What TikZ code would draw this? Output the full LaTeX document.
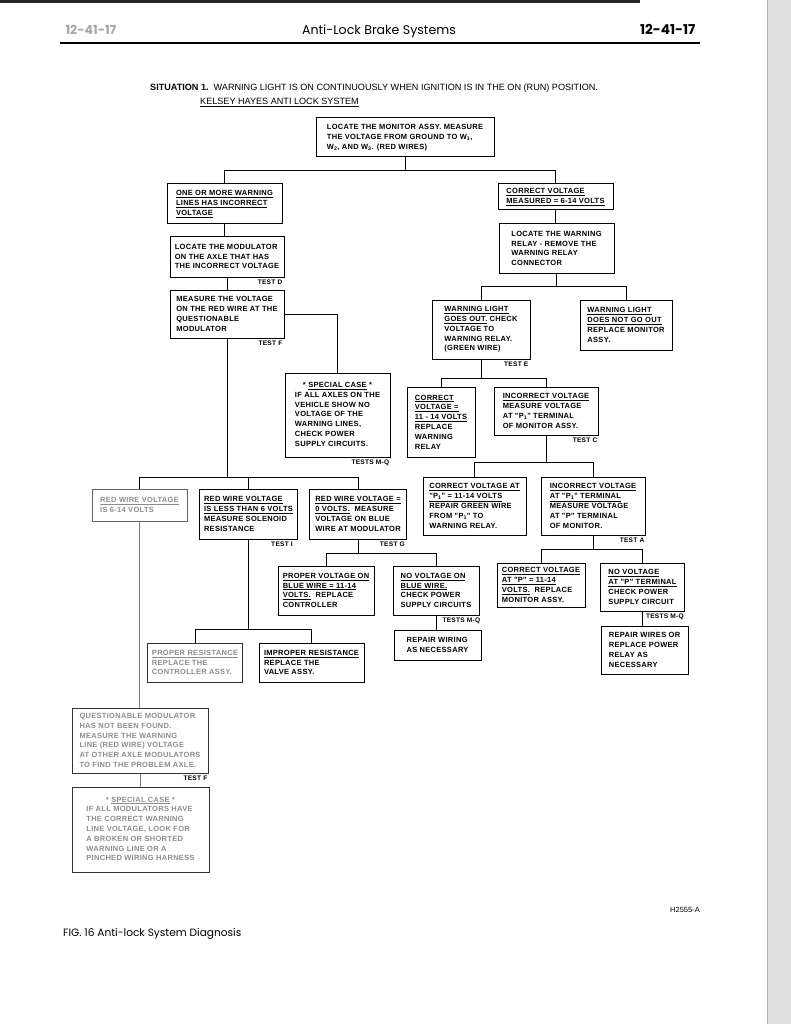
\documentclass[tikz,border=0pt]{standalone}
\usepackage{fontspec}
\setmainfont{Liberation Sans}
\newfontfamily\headfont{Poppins}
\newfontfamily\boxfam[LetterSpace=4]{Liberation Sans}
\newcommand\boxfont{\boxfam\fontsize{7.5}{9.8}\selectfont\bfseries}
\newcommand\lblfont{\boxfam\fontsize{6.6}{8}\selectfont\bfseries}
\newcommand\uln[1]{\underline{#1}}
\newcommand\sbs[1]{\textsubscript{#1}}
\begin{document}
\begin{tikzpicture}[x=1pt,y=-1pt,
  box/.style={draw, line width=1pt, inner xsep=4pt, inner ysep=2pt, align=left, font=\boxfont, anchor=center},
  fade/.style={draw=black!60, text=black!45},
  lbl/.style={anchor=north east, font=\lblfont, inner sep=1pt},
  wire/.style={line width=1pt},
  fwire/.style={line width=1pt, draw=black!50}]
\useasboundingbox (0,0) rectangle (791,1024);
% page artefacts
\fill[black!12] (767,0) rectangle (791,1024);
\draw[black!30, line width=1pt] (767,0) -- (767,1024);
\fill[black!85] (0,0) rectangle (640,3);
% header
\node[anchor=base west, font=\headfont\bfseries\fontsize{12.5}{14}\selectfont, text=black!35] (hl) at (62,35) {12-41-17};
\node[anchor=base, font=\headfont\fontsize{12.6}{14}\selectfont] (hc) at (379,35) {Anti-Lock Brake Systems};
\node[anchor=base east, font=\headfont\bfseries\fontsize{13.6}{15}\selectfont] (hr) at (699,35) {12-41-17};
\draw[line width=1.3pt] (60,43) -- (700,43);
% title
\node[anchor=base west, font=\fontsize{9.1}{11}\selectfont, inner sep=0pt] (title) at (150,91) {\textbf{SITUATION 1.}\ \ WARNING LIGHT IS ON CONTINUOUSLY WHEN IGNITION IS IN THE ON (RUN) POSITION.};
\node[anchor=base west, font=\fontsize{9.1}{11}\selectfont, inner sep=0pt] (sub) at (200,105) {\uln{KELSEY HAYES ANTI LOCK SYSTEM}};
% boxes
\node[box, minimum width=178pt, minimum height=39pt] (mon) at (405,137.5) {LOCATE THE MONITOR ASSY. MEASURE\\THE VOLTAGE FROM GROUND TO W\sbs{1},\\W\sbs{2}, AND W\sbs{3}. (RED WIRES)};
\node[box, minimum width=115pt, minimum height=40pt] (A) at (224.5,204) {\uln{ONE OR MORE WARNING}\\\uln{LINES HAS INCORRECT}\\\uln{VOLTAGE}};
\node[box, minimum width=115pt, minimum height=26pt] (P) at (555.5,197) {\uln{CORRECT VOLTAGE}\\\uln{MEASURED = 6-14 VOLTS}};
\node[box, minimum width=114pt, minimum height=41pt] (B) at (227,256.5) {LOCATE THE MODULATOR\\ON THE AXLE THAT HAS\\THE INCORRECT VOLTAGE};
\node[box, minimum width=114pt, minimum height=48pt] (C) at (227,314) {MEASURE THE VOLTAGE\\ON THE RED WIRE AT THE\\QUESTIONABLE\\MODULATOR};
\node[box, minimum width=115pt, minimum height=49pt] (Q) at (556.5,248.5) {LOCATE THE WARNING\\RELAY - REMOVE THE\\WARNING RELAY\\CONNECTOR};
\node[box, minimum width=98pt, minimum height=59pt] (R) at (481,329.5) {\uln{WARNING LIGHT}\\\uln{GOES OUT.}\ CHECK\\VOLTAGE TO\\WARNING RELAY.\\(GREEN WIRE)};
\node[box, minimum width=92pt, minimum height=50pt] (S) at (626,325) {\uln{WARNING LIGHT}\\\uln{DOES NOT GO OUT}\\REPLACE MONITOR\\ASSY.};
\node[box, minimum width=105pt, minimum height=84pt] (D) at (337.5,415) {\begin{tabular}{@{}l@{}}\multicolumn{1}{@{}c@{}}{* \uln{SPECIAL CASE} *}\\IF ALL AXLES ON THE\\VEHICLE SHOW NO\\VOLTAGE OF THE\\WARNING LINES,\\CHECK POWER\\SUPPLY CIRCUITS.\end{tabular}};
\node[box, minimum width=68pt, minimum height=70pt] (T) at (441,422) {\uln{CORRECT}\\\uln{VOLTAGE =}\\\uln{11 - 14 VOLTS}\\REPLACE\\WARNING\\RELAY};
\node[box, minimum width=104pt, minimum height=48pt] (U) at (546,411) {\uln{INCORRECT VOLTAGE}\\MEASURE VOLTAGE\\AT "P\sbs{1}" TERMINAL\\OF MONITOR ASSY.};
\node[box, fade, minimum width=95pt, minimum height=32pt] (E) at (139.5,505) {\uln{RED WIRE VOLTAGE}\\IS 6-14 VOLTS};
\node[box, minimum width=98pt, minimum height=50pt] (F) at (248.5,514) {\uln{RED WIRE VOLTAGE}\\\uln{IS LESS THAN 6 VOLTS}\\MEASURE SOLENOID\\RESISTANCE};
\node[box, minimum width=97pt, minimum height=50pt] (G) at (358,514) {\uln{RED WIRE VOLTAGE =}\\\uln{0 VOLTS.}\ \ MEASURE\\VOLTAGE ON BLUE\\WIRE AT MODULATOR};
\node[box, minimum width=103pt, minimum height=58pt] (V) at (474.5,506) {\uln{CORRECT VOLTAGE AT}\\\uln{"P\sbs{1}" = 11-14 VOLTS}\\REPAIR GREEN WIRE\\FROM "P\sbs{1}" TO\\WARNING RELAY.};
\node[box, minimum width=104pt, minimum height=58pt] (W) at (593,506) {\uln{INCORRECT VOLTAGE}\\\uln{AT "P\sbs{1}" TERMINAL}\\MEASURE VOLTAGE\\AT "P" TERMINAL\\OF MONITOR.};
\node[box, minimum width=96pt, minimum height=49pt] (H) at (326,590.5) {\uln{PROPER VOLTAGE ON}\\\uln{BLUE WIRE = 11-14}\\\uln{VOLTS.}\ \ REPLACE\\CONTROLLER};
\node[box, minimum width=86pt, minimum height=49pt] (I) at (436,590.5) {\uln{NO VOLTAGE ON}\\\uln{BLUE WIRE.}\\CHECK POWER\\SUPPLY CIRCUITS};
\node[box, minimum width=88pt, minimum height=44pt] (X) at (541,585) {\uln{CORRECT VOLTAGE}\\\uln{AT "P" = 11-14}\\\uln{VOLTS.}\ \ REPLACE\\MONITOR ASSY.};
\node[box, minimum width=84pt, minimum height=48pt] (Y) at (642.5,587) {\uln{NO VOLTAGE}\\\uln{AT "P" TERMINAL}\\CHECK POWER\\SUPPLY CIRCUIT};
\node[box, minimum width=87pt, minimum height=30pt] (J) at (437.5,645) {REPAIR WIRING\\AS NECESSARY};
\node[box, minimum width=87pt, minimum height=48pt] (Z) at (644.5,650) {REPAIR WIRES OR\\REPLACE POWER\\RELAY AS\\NECESSARY};
\node[box, fade, draw=black!80, minimum width=92pt, minimum height=39pt] (K) at (195,662.5) {\uln{PROPER RESISTANCE}\\REPLACE THE\\CONTROLLER ASSY.};
\node[box, minimum width=105pt, minimum height=39pt] (L) at (311.5,662.5) {\uln{IMPROPER RESISTANCE}\\REPLACE THE\\VALVE ASSY.};
\node[box, fade, draw=black!80, minimum width=136pt, minimum height=65pt] (M) at (140,740.5) {QUESTIONABLE MODULATOR\\HAS NOT BEEN FOUND.\\MEASURE THE WARNING\\LINE (RED WIRE) VOLTAGE\\AT OTHER AXLE MODULATORS\\TO FIND THE PROBLEM AXLE.};
\node[box, fade, draw=black!80, minimum width=137pt, minimum height=85pt] (N) at (140.5,829.5) {\begin{tabular}{@{}l@{}}\multicolumn{1}{@{}c@{}}{* \uln{SPECIAL CASE} *}\\IF ALL MODULATORS HAVE\\THE CORRECT WARNING\\LINE VOLTAGE, LOOK FOR\\A BROKEN OR SHORTED\\WARNING LINE OR A\\PINCHED WIRING HARNESS\end{tabular}};
% bus coordinates
\coordinate (b1) at (0,171);
\coordinate (b2) at (0,477);
\coordinate (b3) at (0,553);
\coordinate (b4) at (0,629);
\coordinate (b5) at (0,286);
\coordinate (b6) at (0,378);
\coordinate (b7) at (0,462);
\coordinate (b8) at (0,549);
% connectors
\draw[wire] (mon.south) -- (mon.south |- b1);
\draw[wire] (A.north) -- (A.north |- b1) -- (P.north |- b1) -- (P.north);
\draw[wire] (A.south) -- (A.south |- B.north);
\draw[wire] (B.south) -- (B.south |- C.north);
\draw[wire] (C.east) -| (D.north);
\draw[wire] (C.south) -- (C.south |- b2);
\draw[wire] (E.north) -- (E.north |- b2) -- (G.north |- b2) -- (G.north);
\draw[wire] (F.north) -- (F.north |- b2);
\draw[wire] (G.south) -- (G.south |- b3);
\draw[wire] (H.north) -- (H.north |- b3) -- (I.north |- b3) -- (I.north);
\draw[wire] (I.south) -- (I.south |- J.north);
\draw[wire] (F.south) -- (F.south |- b4);
\draw[wire] (K.north) -- (K.north |- b4) -- (L.north |- b4) -- (L.north);
\draw[fwire] (E.south) -- (E.south |- M.north);
\draw[fwire] (M.south) -- (M.south |- N.north);
\draw[wire] (P.south) -- (P.south |- Q.north);
\draw[wire] (Q.south) -- (Q.south |- b5);
\draw[wire] (R.north) -- (R.north |- b5) -- (S.north |- b5) -- (S.north);
\draw[wire] (R.south) -- (R.south |- b6);
\draw[wire] (T.north) -- (T.north |- b6) -- (U.north |- b6) -- (U.north);
\draw[wire] (U.south) -- (U.south |- b7);
\draw[wire] (V.north) -- (V.north |- b7) -- (W.north |- b7) -- (W.north);
\draw[wire] (W.south) -- (W.south |- b8);
\draw[wire] (X.north) -- (X.north |- b8) -- (Y.north |- b8) -- (Y.north);
\draw[wire] (Y.south) -- (Y.south |- Z.north);
% test labels
\node[lbl] (tD) at ([xshift=-1pt,yshift=-1.5pt]B.south east) {TEST D};
\node[lbl] (tF1) at ([xshift=-1pt,yshift=-1.5pt]C.south east) {TEST F};
\node[lbl] (tE) at ([xshift=-1pt,yshift=-1.5pt]R.south east) {TEST E};
\node[lbl] (tMQ1) at ([xshift=0pt,yshift=-1.5pt]D.south east) {TESTS M-Q};
\node[lbl] (tC) at ([xshift=0pt,yshift=-1.5pt]U.south east) {TEST C};
\node[lbl] (tI) at ([xshift=-4pt,yshift=-1.5pt]F.south east) {TEST I};
\node[lbl] (tG) at ([xshift=-1pt,yshift=-1.5pt]G.south east) {TEST G};
\node[lbl] (tA) at ([xshift=0pt,yshift=-1.5pt]W.south east) {TEST A};
\node[lbl] (tMQ2) at ([xshift=2pt,yshift=-1.5pt]I.south east) {TESTS M-Q};
\node[lbl] (tMQ3) at ([xshift=0pt,yshift=-1.5pt]Y.south east) {TESTS M-Q};
\node[lbl] (tF2) at ([xshift=0pt,yshift=-1.5pt]M.south east) {TEST F};
% footer
\node[anchor=base east, font=\fontsize{7.5}{9}\selectfont, inner sep=0pt] (code) at (700,912) {H2555-A};
\node[anchor=base west, font=\headfont\fontsize{10.6}{12}\selectfont, inner sep=0pt] (fig) at (63,936) {FIG. 16 Anti-lock System Diagnosis};
\end{tikzpicture}
\end{document}
